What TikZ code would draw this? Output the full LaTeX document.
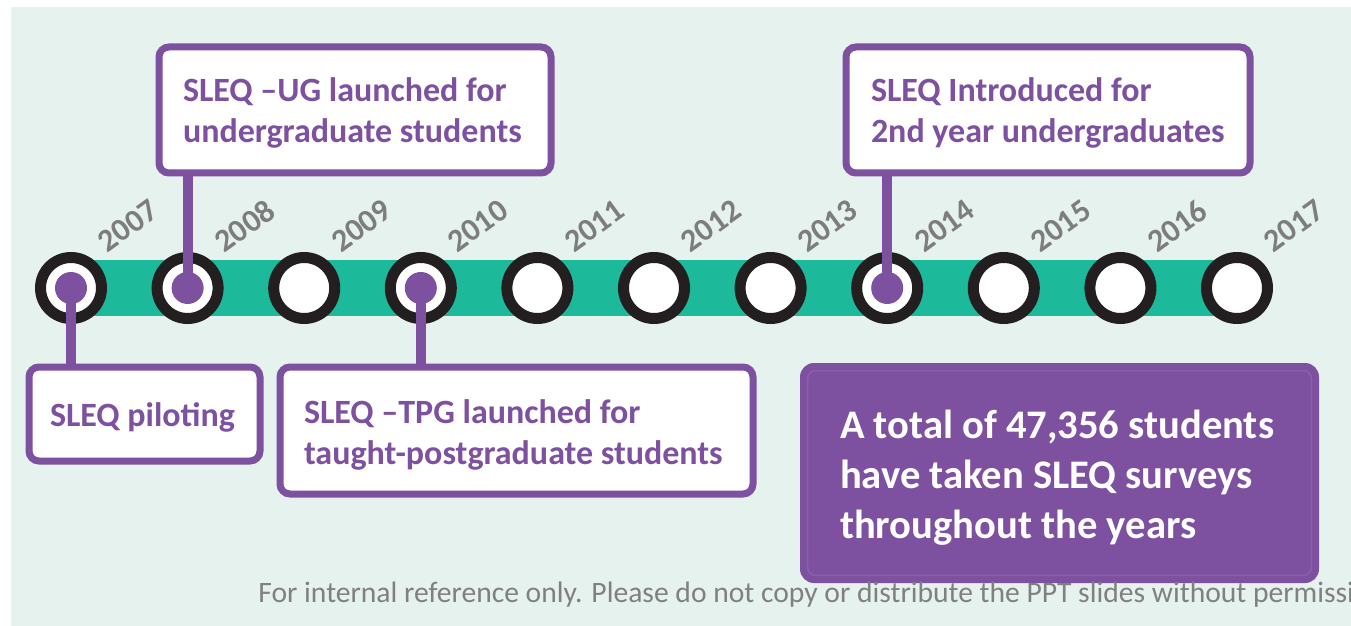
\documentclass[tikz,border=0pt]{standalone}
\usepackage{fontspec}
\setmainfont{Carlito}
\definecolor{mint}{RGB}{230,242,238}
\definecolor{tealbar}{RGB}{29,185,155}
\definecolor{ringblack}{RGB}{35,31,32}
\definecolor{sleqpurple}{RGB}{125,80,160}
\definecolor{yeargray}{RGB}{125,125,125}
\definecolor{footgray}{RGB}{128,128,128}
\definecolor{innerline}{RGB}{138,96,172}

% left-aligned block of lines in a fixed-width slot, lowered by #1
% without changing the space it reports
\newcommand\linesin[3]{\raisebox{-#1}[\height][\depth]{%
  \makebox[#2][l]{\begin{tabular}{@{}l@{}}#3\end{tabular}}}}

\begin{document}
\begin{tikzpicture}[x=0.5pt,y=-0.5pt,
  ring/.style={circle, draw=ringblack, line width=5.5pt, fill=white,
    minimum size=30.5pt, inner sep=0pt},
  dot/.style={circle, fill=sleqpurple, minimum size=16pt, inner sep=0pt},
  yearlbl/.style={text=yeargray, font=\fontsize{16pt}{16pt}\selectfont\bfseries,
    rotate=36, inner sep=0pt},
  link/.style={draw=sleqpurple, line width=5pt},
  eventbox/.style={draw=sleqpurple, line width=3.5pt, fill=white,
    rounded corners=5pt, text=sleqpurple,
    font=\fontsize{17pt}{20.5pt}\selectfont\bfseries, inner sep=0pt},
  totalbox/.style={fill=sleqpurple, rounded corners=7pt, text=white,
    font=\fontsize{20.3pt}{25pt}\selectfont\bfseries, inner sep=0pt},
  footnote/.style={anchor=base west, text=footgray, inner sep=0pt,
    font=\fontsize{14.8pt}{14.8pt}\selectfont},
]
\useasboundingbox (0,0) rectangle (1351,626);

% backdrop
\fill[white] (0,0) rectangle (1351,626);
\fill[mint] (11,7) rectangle (1351,626);

% year positions along the timeline
\foreach \yr [count=\i from 0] in {2007,...,2017}
  \coordinate (p\yr) at ({71+116.6*\i}, 288);

% teal timeline bar
\draw[tealbar, line width=27.5pt] (p2007) -- (p2017);

% year rings and rotated year labels
\foreach \yr [count=\i from 0] in {2007,...,2017} {
  \node[ring] (c\yr) at (p\yr) {};
  \node[yearlbl] (y\yr) at ({71+116.6*\i+57}, 226) {\yr};
}

% event boxes
\node[eventbox, minimum width=196pt, minimum height=63pt] (ug) at (355,110)
  {\linesin{2pt}{172pt}{SLEQ –UG launched for\\undergraduate students}};
\node[eventbox, minimum width=202pt, minimum height=63pt] (intro) at (1048,110)
  {\linesin{2pt}{177pt}{SLEQ Introduced for\\2nd year undergraduates}};
\node[eventbox, minimum width=115.5pt, minimum height=47pt] (pilot) at (144.5,414)
  {\linesin{2pt}{94.5pt}{SLEQ piloting}};
\node[eventbox, minimum width=236.5pt, minimum height=63.5pt] (tpg) at (516.5,430.5)
  {\linesin{2.5pt}{212.5pt}{SLEQ –TPG launched for\\taught-postgraduate students}};

% marked years with their connectors
\node[dot] (d2007) at (c2007) {};
\node[dot] (d2008) at (c2008) {};
\node[dot] (d2010) at (c2010) {};
\node[dot] (d2014) at (c2014) {};
\draw[link] (d2007.center) -- (d2007.center |- pilot.north);
\draw[link] (d2008.center) -- (d2008.center |- ug.south);
\draw[link] (d2010.center) -- (d2010.center |- tpg.north);
\draw[link] (d2014.center) -- (d2014.center |- intro.south);

% summary box
\node[totalbox, minimum width=259.5pt, minimum height=110pt] (total) at (1059.5,473)
  {\linesin{2.5pt}{219.5pt}{A total of 47,356 students\\have taken SLEQ surveys\\throughout the years}};
\draw[innerline, line width=0.8pt, rounded corners=4pt]
  ([shift={(8,8)}]total.north west) rectangle ([shift={(-8,-8)}]total.south east);

% footer note, running off the right edge
\begin{scope}
  \clip (0,0) rectangle (1351,626);
  \node[footnote] (note) at (258,602)
    {For internal reference only. Please do not copy or distribute the PPT slides without permission.};
\end{scope}
\end{tikzpicture}
\end{document}
